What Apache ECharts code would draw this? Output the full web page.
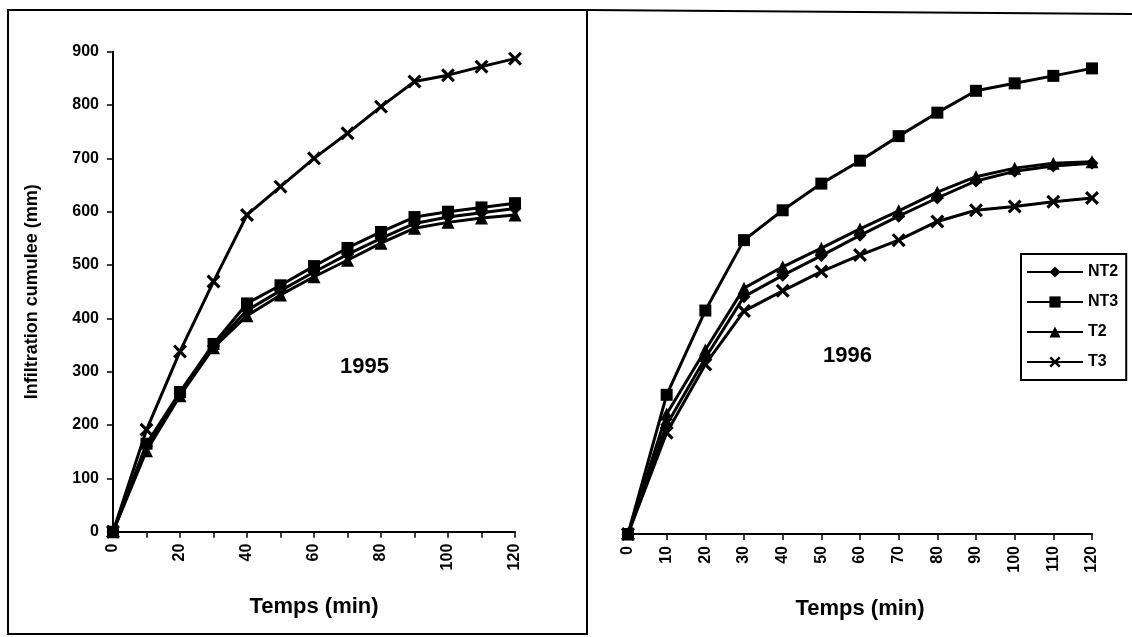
<!DOCTYPE html>
<html>
<head>
<meta charset="utf-8">
<script src="https://cdn.jsdelivr.net/npm/echarts@6/dist/echarts.min.js"></script>
<style>
html,body{margin:0;padding:0;background:#fff;}
#c{width:1132px;height:637px;}
</style>
</head>
<body>
<div id="c"></div>
<script>
// ---- data ----
const times = [0, 10, 20, 30, 40, 50, 60, 70, 80, 90, 100, 110, 120];
const seriesNames = ['NT2', 'NT3', 'T2', 'T3'];
// 1995
const nt2_1995 = [0, 160, 258, 348, 415, 452, 487, 520, 550, 578, 590, 598, 606];
const nt3_1995 = [0, 165, 262, 352, 428, 462, 498, 532, 562, 590, 600, 608, 616];
const t2_1995  = [0, 152, 255, 345, 405, 444, 478, 509, 541, 569, 580, 588, 594];
const t3_1995  = [0, 191, 338, 469, 594, 647, 700, 747, 797, 844, 856, 872, 887];
// 1996
const nt2_1996 = [0, 205, 330, 445, 485, 522, 560, 596, 630, 662, 680, 690, 695];
const nt3_1996 = [0, 261, 419, 551, 607, 657, 700, 746, 790, 831, 845, 859, 873];
const t2_1996  = [0, 225, 345, 461, 501, 536, 572, 606, 641, 670, 686, 695, 698];
const t3_1996  = [0, 190, 318, 418, 456, 492, 523, 551, 586, 607, 614, 623, 630];
const yTicks = [0, 100, 200, 300, 400, 500, 600, 700, 800, 900];
const xAxisTitle = 'Temps (min)';
const yAxisTitle = 'Infiltration cumulee (mm)';
const panelLabels = ['1995', '1996'];

const FONT = 'Liberation Sans';
const pair = arr => arr.map((v, i) => [times[i], v]);
const xPath = 'path://M0,1.6 L1.6,0 L5,3.4 L8.4,0 L10,1.6 L6.6,5 L10,8.4 L8.4,10 L5,6.6 L1.6,10 L0,8.4 L3.4,5 Z';
const symbols = {NT2: 'diamond', NT3: 'rect', T2: 'triangle', T3: xPath};
const sizes = {NT2: 13, NT3: 12, T2: 13, T3: 14};

function mk(name, arr, idx) {
  return {
    name: name, type: 'line', xAxisIndex: idx, yAxisIndex: idx,
    data: pair(arr), symbol: symbols[name], symbolSize: sizes[name],
    lineStyle: {color: '#000', width: 3},
    itemStyle: {color: '#000'},
    emphasis: {disabled: true}, animation: false
  };
}

function xAxis(idx, labelEvery) {
  return {
    type: 'value', gridIndex: idx, min: 0, max: 120, interval: 10,
    name: xAxisTitle, nameLocation: 'middle', nameGap: 64,
    nameTextStyle: {fontFamily: FONT, fontWeight: 'bold', fontSize: 22, color: '#000'},
    axisLine: {show: true, onZero: false, lineStyle: {color: '#000', width: 2}},
    axisTick: {show: true, inside: false, length: 6, lineStyle: {color: '#000', width: 1.5}},
    splitLine: {show: false},
    axisLabel: {
      rotate: 90, margin: 12, fontFamily: FONT, fontWeight: 'bold', fontSize: 16, color: '#000',
      formatter: v => (v % labelEvery === 0 ? String(v) : '')
    }
  };
}

const chart = echarts.init(document.getElementById('c'), null, {renderer: 'canvas'});
chart.setOption({
  backgroundColor: '#fff',
  animation: false,
  grid: [
    {left: 113, top: 51.7, width: 402, height: 480},
    {left: 628, top: 54, width: 464, height: 480}
  ],
  xAxis: [xAxis(0, 20), xAxis(1, 10)],
  yAxis: [
    {
      type: 'value', gridIndex: 0, min: yTicks[0], max: yTicks[yTicks.length - 1], interval: 100,
      name: yAxisTitle, nameLocation: 'middle', nameGap: 72,
      nameTextStyle: {fontFamily: FONT, fontWeight: 'bold', fontSize: 18, color: '#000'},
      axisLine: {show: true, lineStyle: {color: '#000', width: 2}},
      axisTick: {show: true, length: 6, lineStyle: {color: '#000', width: 1.5}},
      splitLine: {show: false},
      axisLabel: {margin: 14, fontFamily: FONT, fontWeight: 'bold', fontSize: 16, color: '#000'}
    },
    {
      type: 'value', gridIndex: 1, min: yTicks[0], max: yTicks[yTicks.length - 1], interval: 100,
      axisLine: {show: false}, axisTick: {show: false}, axisLabel: {show: false}, splitLine: {show: false}
    }
  ],
  legend: {
    data: seriesNames, orient: 'vertical', left: 1021, top: 254,
    itemWidth: 56, itemHeight: 14, itemGap: 14,
    padding: [10, 8, 10, 5],
    borderColor: '#000', borderWidth: 2,
    textStyle: {fontFamily: FONT, fontWeight: 'bold', fontSize: 16, color: '#000'},
    selectedMode: false
  },
  series: [
    mk('NT2', nt2_1995, 0), mk('NT3', nt3_1995, 0), mk('T2', t2_1995, 0), mk('T3', t3_1995, 0),
    mk('NT2', nt2_1996, 1), mk('NT3', nt3_1996, 1), mk('T2', t2_1996, 1), mk('T3', t3_1996, 1)
  ],
  graphic: [
    {type: 'rect', shape: {x: 8, y: 10, width: 579, height: 624}, style: {fill: 'none', stroke: '#000', lineWidth: 2}, silent: true},
    {type: 'polyline', shape: {points: [[587, 10], [1132, 14]]}, style: {fill: 'none', stroke: '#000', lineWidth: 2}, silent: true},
    {type: 'text', left: 340, top: 356, style: {text: panelLabels[0], fontFamily: FONT, fontWeight: 'bold', fontSize: 22, fill: '#000'}},
    {type: 'text', left: 823, top: 345, style: {text: panelLabels[1], fontFamily: FONT, fontWeight: 'bold', fontSize: 22, fill: '#000'}}
  ]
});
</script>
</body>
</html>
